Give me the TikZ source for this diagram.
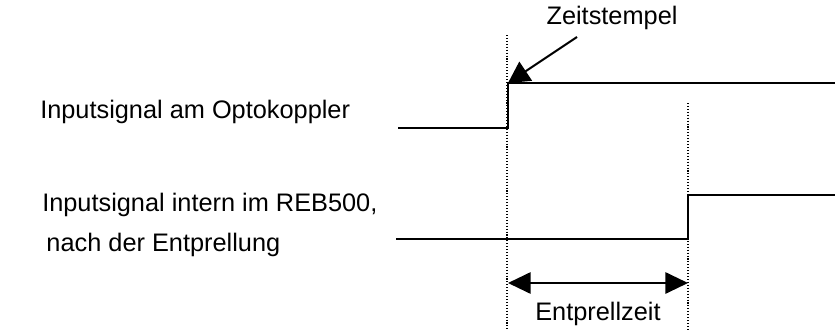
\documentclass[tikz,border=0pt]{standalone}
\usepackage{fontspec}
\setmainfont{Liberation Sans}
\usetikzlibrary{arrows.meta}

\begin{document}
\begin{tikzpicture}[x=0.75pt, y=-0.75pt,
  every node/.style={font=\fontsize{19}{30}\selectfont, inner sep=0pt, align=left},
  signal/.style={line width=2.2pt, line join=miter, line cap=butt},
  marker/.style={line width=0.8pt, dash pattern=on 0.8pt off 1.4pt},
  pointer/.style={line width=1.5pt, -{Triangle[length=16pt, width=17pt]}},
]
\useasboundingbox (0,0) rectangle (835,329);

% Signal labels
\node[anchor=west] (lblopto) at (40,112) {Inputsignal am Optokoppler};
\node[anchor=west] (lblintern) at (42,225) {Inputsignal intern im REB500,\\\,nach der Entprellung};

% Edges of the two signals
\coordinate (rise1) at (508,83);
\coordinate (rise2) at (688,195);

% Signal traces
\draw[signal] (398,128) -- (rise1 |- 0,128) -- (rise1) -- (835,83);
\draw[signal] (396,239) -- (rise2 |- 0,239) -- (rise2) -- (835,195);

% Time markers
\draw[marker] (507,35) -- (507,329);
\draw[marker] (688,103) -- (688,329);

% Time stamp
\node (stamp) at (612,18) {Zeitstempel};
\draw[pointer] (577,37) -- (rise1);

% Debounce interval
\coordinate (dstart) at (508,283);
\coordinate (dend) at (688,283);
\draw[pointer, {Triangle[length=17pt, width=16pt]}-{Triangle[length=17pt, width=16pt]}] (dstart) -- (dend);
\node (debounce) at (598,314) {Entprellzeit};

\end{tikzpicture}
\end{document}
